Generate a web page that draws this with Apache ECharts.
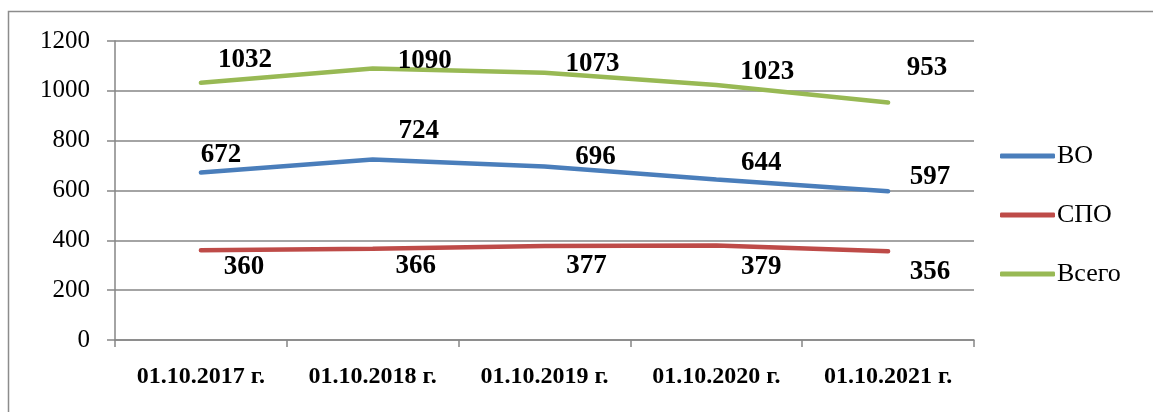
<!DOCTYPE html>
<html>
<head>
<meta charset="utf-8">
<script src="https://cdn.jsdelivr.net/npm/echarts@6/dist/echarts.min.js"></script>
<style>
  html, body { margin: 0; padding: 0; background: #fff; }
  #chart { width: 1153px; height: 412px; }
</style>
</head>
<body>
<div id="chart"></div>
<script>
var dates = ['01.10.2017 г.', '01.10.2018 г.', '01.10.2019 г.', '01.10.2020 г.', '01.10.2021 г.'];
var vo = [672, 724, 696, 644, 597];
var spo = [360, 366, 377, 379, 356];
var total = [1032, 1090, 1073, 1023, 953];

// where each value label sits relative to its point
var voOffsets = [[20, -18], [46, -29], [51, -10], [45, -17], [42, -14]];
var spoOffsets = [[43, 17], [43, 17], [42, 20], [45, 21], [42, 21]];
var totalOffsets = [[44, -23], [52, -7], [48, -9], [51, -13], [39, -35]];

var serif = "'Liberation Serif', 'Times New Roman', serif";

var myChart = echarts.init(document.getElementById('chart'));

function makeSeries(name, values, offsets, color) {
	return {
		name: name,
		type: 'line',
		data: values,
		symbol: 'circle',
		symbolSize: 1,
		showSymbol: true,
		lineStyle: { color: color, width: 4.5, cap: 'round' },
		itemStyle: { color: color },
		label: {
			show: true,
			position: 'inside',
			color: '#000',
			fontFamily: serif,
			fontWeight: 'bold',
			fontSize: 27
		},
		labelLayout: function (params) {
			var off = offsets[params.dataIndex];
			return { dx: off[0], dy: off[1], hideOverlap: false };
		},
		animation: false
	};
}

myChart.setOption({
	textStyle: { fontFamily: serif },
	graphic: [{
		type: 'rect',
		shape: { x: 8.5, y: 11.5, width: 1200, height: 500 },
		style: { fill: 'none', stroke: '#8c8c8c', lineWidth: 1.5 }
	}],
	grid: { left: 115, right: 179, top: 41, bottom: 72 },
	legend: {
		orient: 'vertical',
		left: 1000,
		top: 143,
		padding: 0,
		itemWidth: 55,
		itemHeight: 5,
		itemGap: 33,
		icon: 'roundRect',
		textStyle: { fontFamily: serif, fontSize: 26, lineHeight: 26, color: '#000', padding: [0, 0, 0, -3] },
		data: ['ВО', 'СПО', 'Всего']
	},
	xAxis: {
		type: 'category',
		data: dates,
		axisLine: { lineStyle: { color: '#868686', width: 1.5 } },
		axisTick: { show: true, length: 7, lineStyle: { color: '#868686', width: 1.5 } },
		axisLabel: {
			color: '#000',
			fontFamily: serif,
			fontWeight: 'bold',
			fontSize: 24,
			margin: 25
		}
	},
	yAxis: {
		type: 'value',
		min: 0,
		max: 1200,
		interval: 200,
		axisLine: { show: true, lineStyle: { color: '#868686', width: 1.5 } },
		axisTick: { show: true, length: 8, lineStyle: { color: '#868686', width: 1.5 } },
		splitLine: { lineStyle: { color: '#868686', width: 1.5 } },
		axisLabel: {
			color: '#000',
			fontFamily: serif,
			fontSize: 25,
			margin: 25,
			formatter: function (v) { return String(v); }
		}
	},
	series: [
		makeSeries('ВО', vo, voOffsets, '#4a7ebb'),
		makeSeries('СПО', spo, spoOffsets, '#be4b48'),
		makeSeries('Всего', total, totalOffsets, '#98b954')
	]
});
</script>
</body>
</html>
